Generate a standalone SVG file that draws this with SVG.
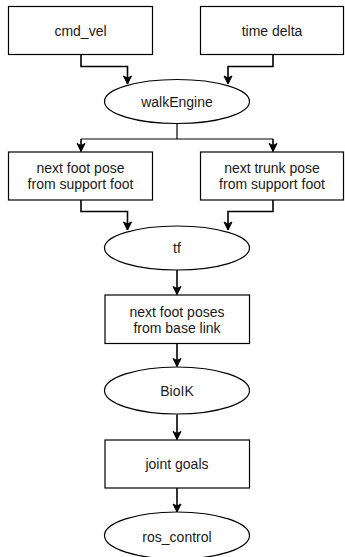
<svg xmlns="http://www.w3.org/2000/svg" width="345" height="557" viewBox="0 0 345 557">
<defs>
<marker id="arr" markerWidth="10" markerHeight="10" refX="9" refY="5" orient="auto" markerUnits="userSpaceOnUse">
<path d="M1,1 L9,5 L1,9 L3,5 Z" fill="#000" stroke="#000" stroke-width="1"/>
</marker>
<style>
.n{fill:#fff;stroke:#000;stroke-width:1.2}
.t{font-family:"Liberation Sans",Arial,sans-serif;font-size:14px;fill:#1a1a1a;text-anchor:middle}
.c{fill:none;stroke:#000;stroke-width:1.2}
.a{marker-end:url(#arr);stroke-width:1.6}
</style>
</defs>
<rect width="345" height="557" fill="#fff"/>
<g id="connectors">
<path class="c a" d="M81,54.5 V66.5 H127.5 V84"/>
<path class="c a" d="M273,54.5 V66.5 H228 V84"/>
<path class="c" d="M177,123.5 V139 M81,139 H273"/>
<path class="c a" d="M81,139 V151.5"/>
<path class="c a" d="M273,139 V151.5"/>
<path class="c a" d="M81,200 V211.5 H127.5 V230"/>
<path class="c a" d="M273,200 V211.5 H228 V230"/>
<path class="c a" d="M177,270 V294.5"/>
<path class="c a" d="M177,343.5 V366.5"/>
<path class="c a" d="M177,414.5 V439.5"/>
<path class="c a" d="M177,488 V512"/>
</g>
<g id="cmd_vel"><rect class="n" x="8.5" y="6.5" width="144" height="48"/><text class="t" x="80.5" y="35.5">cmd_vel</text></g>
<g id="time_delta"><rect class="n" x="200.5" y="6.5" width="143" height="48"/><text class="t" x="272" y="35.5">time delta</text></g>
<g id="walkEngine"><ellipse class="n" cx="177" cy="101.5" rx="72.5" ry="22"/><text class="t" x="177" y="106.5">walkEngine</text></g>
<g id="next_foot_pose"><rect class="n" x="8.5" y="152" width="144" height="48"/><text class="t" x="80.5" y="172.5">next foot pose</text><text class="t" x="80.5" y="189">from support foot</text></g>
<g id="next_trunk_pose"><rect class="n" x="200.5" y="152" width="143" height="48"/><text class="t" x="272" y="172.5">next trunk pose</text><text class="t" x="272" y="189">from support foot</text></g>
<g id="tf"><ellipse class="n" cx="177" cy="248" rx="72.5" ry="22"/><text class="t" x="177" y="253">tf</text></g>
<g id="next_foot_poses"><rect class="n" x="105" y="295" width="144.5" height="48.5"/><text class="t" x="177" y="316.5">next foot poses</text><text class="t" x="177" y="333">from base link</text></g>
<g id="BioIK"><ellipse class="n" cx="177" cy="390.5" rx="72.5" ry="23.5"/><text class="t" x="177" y="395.5">BioIK</text></g>
<g id="joint_goals"><rect class="n" x="105" y="440" width="144.5" height="48"/><text class="t" x="177" y="469">joint goals</text></g>
<g id="ros_control"><ellipse class="n" cx="177" cy="535.5" rx="72.5" ry="23.5"/><text class="t" x="177" y="541.5">ros_control</text></g>
</svg>
